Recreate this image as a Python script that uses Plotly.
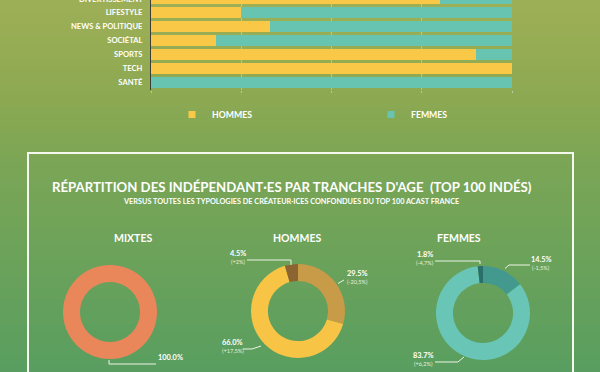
import plotly.graph_objects as go

# ---------------- DATA ----------------
categories = ["DIVERTISSEMENT", "LIFESTYLE", "NEWS & POLITIQUE", "SOCIÉTAL", "SPORTS", "TECH", "SANTÉ"]
hommes_pct = [80, 25, 33, 18, 90, 100, 0]
femmes_pct = [20, 75, 67, 82, 10, 0, 100]

mixtes_vals = [100.0]
mixtes_delta = [""]
hommes_age_vals = [29.5, 66.0, 4.5]
hommes_age_delta = ["(-20,5%)", "(+17,5%)", "(+2%)"]
femmes_age_vals = [14.5, 83.7, 1.8]
femmes_age_delta = ["(-1,5%)", "(+6,2%)", "(-4,7%)"]

title_main = "RÉPARTITION DES INDÉPENDANT·ES PAR TRANCHES D'AGE  (TOP 100 INDÉS)"
title_sub = "VERSUS TOUTES LES TYPOLOGIES DE CRÉATEUR·ICES CONFONDUES DU TOP 100 ACAST FRANCE"
donut_titles = ["MIXTES", "HOMMES", "FEMMES"]

# ---------------- STYLE ----------------
W, H = 600, 372
YELLOW = "#f9c846"
TEAL = "#67c4b0"
FONT = "Lato"
WHITE = "#ffffff"
TICKSIZE = 7.6


def px(x):
    return x / W


def py(y):
    return 1 - y / H


fig = go.Figure()

# background gradient bands
stops = [(0, (158, 175, 86)), (100, (140, 169, 82)), (150, (126, 166, 85)), (372, (88, 158, 96))]
shapes = []
n = 62
for i in range(n):
    y0 = i * H / n
    y1 = (i + 1) * H / n
    ym = (y0 + y1) / 2
    for (a, ca), (b, cb) in zip(stops[:-1], stops[1:]):
        if a <= ym <= b:
            t = (ym - a) / (b - a)
            c = tuple(int(round(ca[k] + (cb[k] - ca[k]) * t)) for k in range(3))
            break
    shapes.append(dict(type="rect", xref="paper", yref="paper", x0=0, x1=1,
                       y0=py(y1 + 0.5), y1=py(y0), fillcolor="rgb(%d,%d,%d)" % c,
                       line=dict(width=0), layer="below"))

# panel border
shapes.append(dict(type="rect", xref="paper", yref="paper", x0=px(28), x1=px(573),
                   y0=py(390), y1=py(153), line=dict(color="#f4f8ee", width=2),
                   fillcolor="rgba(0,0,0,0)", layer="above"))

# ---------------- BARS ----------------
fig.add_trace(go.Bar(y=categories, x=hommes_pct, orientation="h", marker=dict(color=YELLOW, line=dict(width=0)),
                     name="HOMMES", showlegend=False, xaxis="x", yaxis="y"))
fig.add_trace(go.Bar(y=categories, x=femmes_pct, orientation="h", marker=dict(color=TEAL, line=dict(width=0)),
                     name="FEMMES", showlegend=False, xaxis="x", yaxis="y"))
# legend entries
fig.add_trace(go.Scatter(x=[None], y=[None], mode="markers", name="<b>HOMMES</b>",
                         marker=dict(symbol="square", size=7, color=YELLOW), xaxis="x", yaxis="y"))
fig.add_trace(go.Scatter(x=[None], y=[None], mode="markers", name="<b>FEMMES</b>",
                         marker=dict(symbol="square", size=7, color=TEAL), xaxis="x", yaxis="y"))

# ---------------- DONUTS ----------------
def dom(cx, cy, r=47):
    return dict(x=[px(cx - r), px(cx + r)], y=[py(cy + r), py(cy - r)])


fig.add_trace(go.Pie(values=mixtes_vals, labels=["MIXTES"], hole=0.64, sort=False, direction="clockwise",
                     rotation=0, marker=dict(colors=["#e9875b"], line=dict(width=0)),
                     textinfo="none", showlegend=False, domain=dom(110, 312)))
fig.add_trace(go.Pie(values=hommes_age_vals, labels=["a", "b", "c"], hole=0.64, sort=False, direction="clockwise",
                     rotation=0, marker=dict(colors=["#c79b47", "#f8c446", "#8b6431"], line=dict(width=0)),
                     textinfo="none", showlegend=False, domain=dom(298, 311)))
fig.add_trace(go.Pie(values=femmes_age_vals, labels=["a", "b", "c"], hole=0.64, sort=False, direction="clockwise",
                     rotation=0, marker=dict(colors=["#43998e", "#69c5b5", "#2a6f69"], line=dict(width=0)),
                     textinfo="none", showlegend=False, domain=dom(483, 313)))

annotations = []

# first (cut-off) category label, just above the top edge of the picture
annotations.append(dict(x=px(145), y=py(-1.3), xref="paper", yref="paper", text="<b>%s</b>" % categories[0],
                        showarrow=False, xanchor="right", yanchor="middle",
                        font=dict(family=FONT, size=TICKSIZE, color=WHITE)))

# main titles
annotations.append(dict(x=px(292), y=py(187), xref="paper", yref="paper", text="<b>%s</b>" % title_main,
                        showarrow=False, font=dict(family=FONT, size=13.2, color=WHITE)))
annotations.append(dict(x=px(291), y=py(201), xref="paper", yref="paper", text="<b>%s</b>" % title_sub,
                        showarrow=False, font=dict(family=FONT, size=7.3, color=WHITE)))
for t, x in zip(donut_titles, [112, 297, 483]):
    annotations.append(dict(x=px(x), y=py(238), xref="paper", yref="paper", text="<b>%s</b>" % t,
                            showarrow=False, font=dict(family=FONT, size=10.5, color=WHITE)))

# donut labels (value + delta) with leader lines
LINE = dict(color="#eef3e6", width=1)


def label(x, y, val, delta, anchor="center"):
    annotations.append(dict(x=px(x), y=py(y), xref="paper", yref="paper", text="<b>%.1f%%</b>" % val,
                            showarrow=False, xanchor=anchor, font=dict(family=FONT, size=7.4, color=WHITE)))
    if delta:
        annotations.append(dict(x=px(x), y=py(y + 7), xref="paper", yref="paper", text=delta,
                                showarrow=False, xanchor=anchor, font=dict(family=FONT, size=5.6, color="#e8f0dc")))


def leader(points):
    path = "M " + " L ".join("%f,%f" % (px(a), py(b)) for a, b in points)
    shapes.append(dict(type="path", xref="paper", yref="paper", path=path, line=LINE))


# MIXTES
label(171, 364, mixtes_vals[0], mixtes_delta[0])
leader([(109, 360), (109, 364), (156, 364)])
# HOMMES
label(357, 280, hommes_age_vals[0], hommes_age_delta[0])
leader([(338, 283.5), (344, 280)])
label(233, 349, hommes_age_vals[1], hommes_age_delta[1])
leader([(243, 349), (252, 349), (261, 346)])
label(238, 260, hommes_age_vals[2], hommes_age_delta[2])
leader([(247, 260), (291, 260), (291, 265)])
# FEMMES
label(541, 266, femmes_age_vals[0], femmes_age_delta[0])
leader([(505, 268.5), (509, 265), (530, 265)])
label(423, 362, femmes_age_vals[1], femmes_age_delta[1])
leader([(435, 362), (458, 362), (464, 357)])
label(425, 261, femmes_age_vals[2], femmes_age_delta[2])
leader([(435, 261), (480, 261), (480, 264)])

fig.update_layout(
    width=W, height=H,
    margin=dict(l=0, r=0, t=0, b=0),
    paper_bgcolor="rgb(126,166,85)",
    plot_bgcolor="rgba(0,0,0,0)",
    barmode="stack",
    bargap=0.24,
    font=dict(family=FONT, color=WHITE),
    xaxis=dict(domain=[px(151), px(512)], range=[0, 100], tickvals=[0, 25, 50, 75, 100],
               showticklabels=False, showgrid=True, gridcolor="rgba(215,215,200,0.55)", gridwidth=1,
               zeroline=False, ticks="outside", ticklen=2, tickcolor="rgba(215,215,200,0.7)",
               anchor="y", fixedrange=True),
    yaxis=dict(domain=[py(89.7), 1], type="category", categoryorder="array", categoryarray=categories,
               range=[6.5, 0.093], showline=True, linecolor="#3d3d35", linewidth=1,
               showgrid=False, zeroline=False, ticks="", ticklabelstandoff=6,
               tickfont=dict(family=FONT, size=TICKSIZE, color=WHITE),
               anchor="x", fixedrange=True),
    legend=dict(orientation="h", x=px(172), y=py(100), xanchor="left", yanchor="top",
                entrywidth=154, entrywidthmode="pixels", itemwidth=30, traceorder="normal",
                bgcolor="rgba(0,0,0,0)", font=dict(family=FONT, size=8.7, color=WHITE),
                tracegroupgap=0),
    shapes=shapes,
    annotations=annotations,
    showlegend=True,
)
fig.update_yaxes(tickprefix="<b>", ticksuffix="</b>")

fig.write_html("out.html", config={"displayModeBar": False},
               post_script="document.body.style.margin='0px';document.body.style.overflow='hidden';")
